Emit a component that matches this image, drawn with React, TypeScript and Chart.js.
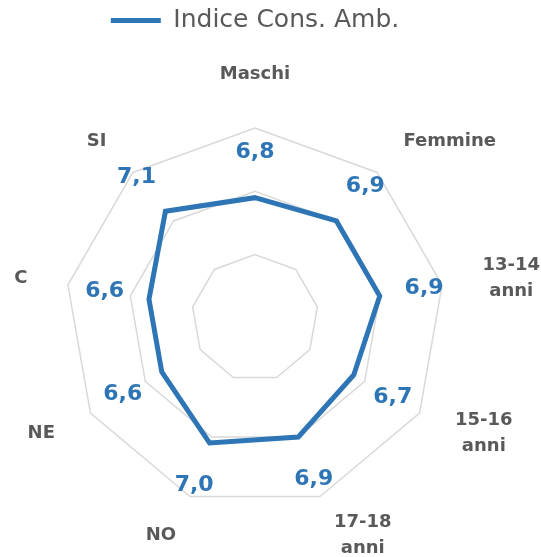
import React, { useEffect, useRef } from 'react';
import { Chart, registerables } from 'chart.js';

Chart.register(...registerables);

// ---- data ----
const CATEGORIES: (string | string[])[] = [
  'Maschi',
  'Femmine',
  ['13-14', 'anni'],
  ['15-16', 'anni'],
  ['17-18', 'anni'],
  'NO',
  'NE',
  'C',
  'SI',
];
const SERIES_NAME = 'Indice Cons. Amb.';
const VALUES = [6.8, 6.9, 6.9, 6.7, 6.9, 7.0, 6.6, 6.6, 7.1];
const SCALE_MIN = 4.9;
const SCALE_MAX = 7.9;
const RING_COUNT = 4;

// ---- style ----
const BLUE = '#2E75B6';
const GREY_TEXT = '#595959';
const GRID = '#D9D9D9';
const FONT = "'DejaVu Sans', sans-serif";

const fmt = (v: number) => v.toFixed(1).replace('.', ',');

const categoryLabelPlugin = {
  id: 'categoryLabels',
  afterDraw(chart: any) {
    const scale = chart.scales.r;
    const ctx = chart.ctx;
    const labels = chart.data.labels as (string | string[])[];
    const n = labels.length;
    const lh = 26;
    ctx.save();
    ctx.font = `bold 18px ${FONT}`;
    ctx.fillStyle = GREY_TEXT;
    ctx.textBaseline = 'middle';
    ctx.textAlign = 'center';
    labels.forEach((lab, i) => {
      const lines = Array.isArray(lab) ? lab : [lab];
      const pos = scale.getPointPosition(i, scale.drawingArea + 41);
      const deg = Math.round((i * 360) / n) % 360;
      const h = lines.length * lh;
      const w = Math.max(...lines.map((l: string) => ctx.measureText(l).width));
      let left: number;
      if (deg === 0 || deg === 180) left = pos.x - w / 2;
      else if (deg < 180) left = pos.x;
      else left = pos.x - w;
      let top: number;
      if (deg === 0) top = pos.y - h;
      else if (deg === 180) top = pos.y;
      else top = pos.y - h / 2;
      lines.forEach((l: string, k: number) => {
        ctx.fillText(l, left + w / 2, top + lh * k + lh / 2);
      });
    });
    ctx.restore();
  },
};

const valueLabelPlugin = {
  id: 'valueLabels',
  afterDatasetsDraw(chart: any) {
    const scale = chart.scales.r;
    const ctx = chart.ctx;
    const meta = chart.getDatasetMeta(0);
    const data = chart.data.datasets[0].data as number[];
    ctx.save();
    ctx.font = `bold 22px ${FONT}`;
    ctx.fillStyle = BLUE;
    ctx.textAlign = 'center';
    ctx.textBaseline = 'middle';
    meta.data.forEach((el: any, i: number) => {
      const dx = el.x - scale.xCenter;
      const dy = el.y - scale.yCenter;
      const d = Math.sqrt(dx * dx + dy * dy) || 1;
      const off = 45;
      ctx.fillText(fmt(data[i]), el.x + (dx / d) * off, el.y + (dy / d) * off);
    });
    ctx.restore();
  },
};

export default function App() {
  const canvasRef = useRef<HTMLCanvasElement | null>(null);

  useEffect(() => {
    if (!canvasRef.current) return;
    const chart = new Chart(canvasRef.current, {
      type: 'radar',
      data: {
        labels: CATEGORIES as any,
        datasets: [
          {
            label: SERIES_NAME,
            data: VALUES,
            borderColor: BLUE,
            backgroundColor: BLUE,
            borderWidth: 5,
            borderCapStyle: 'round',
            fill: false,
            pointRadius: 0,
            pointHoverRadius: 0,
          } as any,
        ],
      },
      options: {
        responsive: true,
        maintainAspectRatio: false,
        animation: false,
        layout: { padding: { left: 65, right: 96, top: 0, bottom: 0 } },
        plugins: {
          legend: {
            position: 'top',
            labels: {
              usePointStyle: true,
              pointStyle: 'line',
              pointStyleWidth: 50,
              padding: 8,
              color: GREY_TEXT,
              font: { family: FONT, size: 25 },
            },
          },
          tooltip: { enabled: false },
        },
        scales: {
          r: {
            min: SCALE_MIN,
            max: SCALE_MAX,
            ticks: { display: false, count: RING_COUNT },
            grid: { color: GRID, lineWidth: 1.5 },
            angleLines: { display: false },
            pointLabels: { display: false },
          },
        },
      } as any,
      plugins: [valueLabelPlugin, categoryLabelPlugin],
    });
    return () => chart.destroy();
  }, []);

  return (
    <div style={{ position: 'fixed', left: 0, top: 0, width: 541, height: 593, background: '#fff' }}>
      <canvas ref={canvasRef} />
    </div>
  );
}
